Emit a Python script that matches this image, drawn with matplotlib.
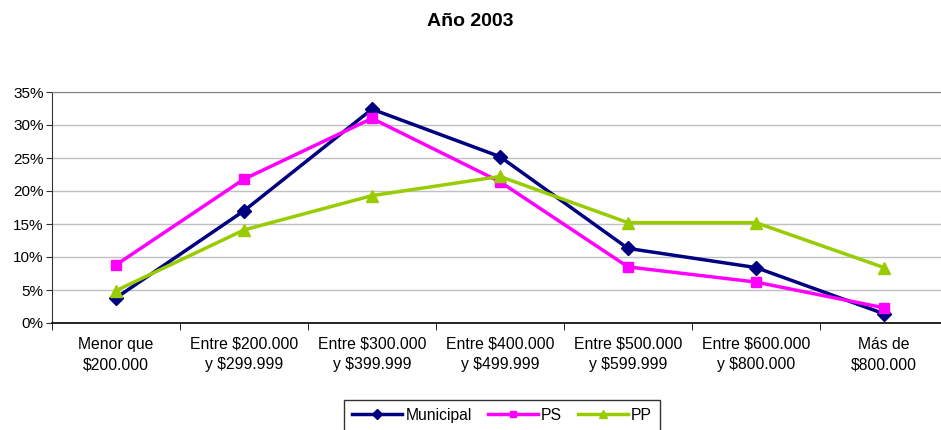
import numpy as np
import matplotlib.pyplot as plt

plt.rcParams['font.family'] = ['Liberation Sans', 'DejaVu Sans']

categories = ['Menor que\n$200.000', 'Entre $200.000\ny $299.999', 'Entre $300.000\ny $399.999',
              'Entre $400.000\ny $499.999', 'Entre $500.000\ny $599.999', 'Entre $600.000\ny $800.000',
              'Más de\n$800.000']
municipal = [3.8, 17.0, 32.4, 25.2, 11.3, 8.4, 1.4]
ps = [8.8, 21.8, 31.0, 21.4, 8.5, 6.2, 2.3]
pp = [4.9, 14.1, 19.3, 22.2, 15.2, 15.2, 8.4]

fig = plt.figure(figsize=(9.41, 4.30), dpi=100)
ax = fig.add_axes([52 / 941, 107 / 430, 896 / 941, 231 / 430])

x = np.arange(len(categories))
ax.plot(x, municipal, color='#000080', lw=2.5, marker='D', ms=7, label='Municipal', zorder=3)
ax.plot(x, ps, color='#FF00FF', lw=2.5, marker='s', ms=7, label='PS', zorder=3)
ax.plot(x, pp, color='#99CC00', lw=2.5, marker='^', ms=8, label='PP', zorder=3)

ax.set_xlim(-0.5, 6.5)
ax.set_ylim(0, 35)
ax.set_yticks(range(0, 36, 5))
ax.set_yticklabels([f'{v}%' for v in range(0, 36, 5)], fontsize=11)
ax.set_xticks(x)
ax.set_xticklabels(categories, fontsize=11.3, linespacing=1.45)
ax.set_xticks(np.arange(-0.5, 7, 1), minor=True)
ax.tick_params(axis='x', which='major', length=0, pad=10)
ax.tick_params(axis='x', which='minor', length=5, direction='out', color='black')
ax.tick_params(axis='y', length=4, color='#333333', pad=2)
ax.grid(axis='y', color='#C0C0C0', lw=1)
ax.set_axisbelow(True)
ax.spines['right'].set_visible(False)
ax.spines['top'].set_color('#808080')
ax.spines['left'].set_color('#333333')
ax.spines['bottom'].set_color('black')
ax.spines['bottom'].set_linewidth(1.2)

fig.text(0.5, 1 - 21 / 430, 'Año 2003', ha='center', va='center', fontsize=14, fontweight='bold')

leg = fig.legend(loc='upper center', bbox_to_anchor=(502 / 941, 1 - 400 / 430), ncol=3, frameon=True,
                 fancybox=False, edgecolor='black', fontsize=11.3, handlelength=3.2,
                 handletextpad=0.2, columnspacing=1.0, borderpad=0.5, borderaxespad=0,
                 markerscale=0.7)
leg.get_frame().set_linewidth(1)

fig.savefig('out.png', dpi=100)
